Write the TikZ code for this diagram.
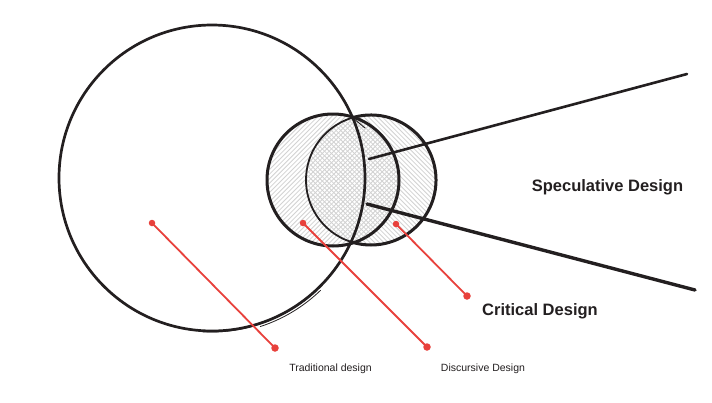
\documentclass[tikz,border=0pt]{standalone}
\usepackage{fontspec}
\setmainfont{Liberation Sans}
\begin{document}
\begin{tikzpicture}[x=1pt,y=-1pt,
  ink/.style={draw=inkc, line cap=round},
  hatch/.style={draw=hatchc, line width=0.8pt},
  reddot/.style={circle, fill=redc, inner sep=0pt, minimum size=#1},
  redline/.style={draw=redc, line width=1.8pt},
  biglabel/.style={font=\fontsize{16.5}{18}\selectfont\bfseries, text=inkc, anchor=base, inner sep=0pt},
  smalllabel/.style={font=\fontsize{10.5}{12}\selectfont, text=inkc, anchor=base, inner sep=0pt}]
\definecolor{inkc}{HTML}{231F20}
\definecolor{redc}{HTML}{E8413C}
\definecolor{hatchc}{HTML}{D2D2D2}
\useasboundingbox[fill=white] (0,0) rectangle (712,402);

% hatching of circle A ("/" lines)
\begin{scope}
  \clip (333,180) circle (66);
  \foreach \i in {120,124.6,...,420} {
    \draw[hatch] (\i,250) -- ++(150,-150);
  }
\end{scope}
% hatching of circle B ("\" lines)
\begin{scope}
  \clip (371,180) circle (65);
  \foreach \i in {150,154.6,...,460} {
    \draw[hatch] (\i,110) -- ++(150,150);
  }
\end{scope}

% big circle
\draw[ink, line width=2.7pt] (212,178) circle (153);
\draw[ink, line width=1.3pt] (211,177) ++(47:154.8) arc (47:93:154.8);
\draw[ink, line width=0.8pt] (212,178) ++(46:156.2) arc (46:72:156.2);

% circle A
\draw[ink, line width=3pt] (333,180) circle (66);
% circle B
\draw[ink, line width=1.8pt] (371,180) circle (65);
\draw[ink, line width=3pt] (371,180) ++(-107:65) arc (-107:107:65);

% sketch tick
\coordinate (t1) at (353,118);
\coordinate (t2) at (365,128);
\draw[ink, line width=0.9pt] (t1) -- (t2);

% wedge lines
\coordinate (u1) at (369,159);
\coordinate (u2) at (687,74);
\coordinate (l1) at (367,204);
\coordinate (l2) at (695,290);
\draw[ink, line width=2.6pt] (u1) -- (u2);
\draw[ink, line width=3.4pt] (l1) -- (l2);

% red pointers
\node[reddot=6.5pt] (tA) at (152,223) {};
\node[reddot=7.5pt] (tB) at (275,348) {};
\node[reddot=6.5pt] (dA) at (303,223) {};
\node[reddot=7.5pt] (dB) at (427,347) {};
\node[reddot=6.5pt] (cA) at (396,224) {};
\node[reddot=7.5pt] (cB) at (467,296) {};
\draw[redline] (tA.center) -- (tB.center);
\draw[redline] (dA.center) -- (dB.center);
\draw[redline] (cA.center) -- (cB.center);

% labels
\node[smalllabel] (trad) at (330.5,371) {Traditional design};
\node[smalllabel] (disc) at (483,371) {Discursive Design};
\node[biglabel] (crit) at (540,315) {Critical Design};
\node[biglabel] (spec) at (607.5,191) {Speculative Design};
\end{tikzpicture}
\end{document}
